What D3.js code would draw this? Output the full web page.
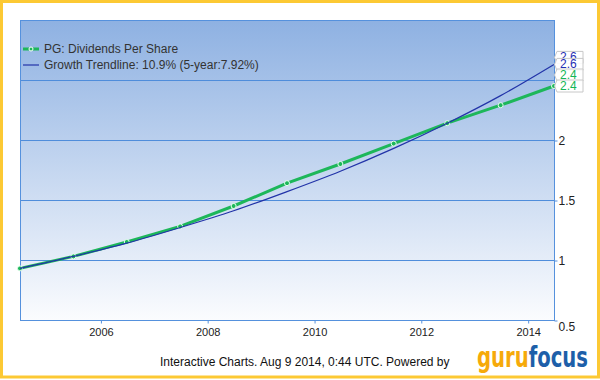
<!doctype html>
<html lang="en">
<head>
  <meta charset="utf-8">
  <title>PG Dividends Per Share</title>
  <script src="https://d3js.org/d3.v7.min.js"></script>
  <style>
    body { margin: 0; background: #fff; }
    text { font-family: 'Liberation Sans', Arial, sans-serif; }
  </style>
</head>
<body>
  <div id="chart"></div>
  <script>
    // fiscal year ends (June) for PG
    var years = ['2004-06-30','2005-06-30','2006-06-30','2007-06-30','2008-06-30','2009-06-30',
                 '2010-06-30','2011-06-30','2012-06-30','2013-06-30','2014-06-30'];
    var dividends = [0.93, 1.03, 1.15, 1.28, 1.45, 1.64, 1.80, 1.97, 2.14, 2.29, 2.45];
    var trendline = [0.93, 1.03, 1.14, 1.27, 1.41, 1.57, 1.74, 1.93, 2.14, 2.37, 2.63];
    var xTicks = [2006, 2008, 2010, 2012, 2014];
    var yTicks = [0.5, 1, 1.5, 2];
    var gridValues = [1, 1.5, 2, 2.5];

    var width = 600, height = 380;
    var plotLeft = 20, plotRight = 554, plotTop = 20, plotBottom = 320;

    var parse = d3.timeParse('%Y-%m-%d');
    var dates = years.map(parse);

    var svg = d3.select('#chart').append('svg')
        .attr('width', width)
        .attr('height', height);

    var defs = svg.append('defs');
    var grad = defs.append('linearGradient')
        .attr('id', 'bg')
        .attr('x1', 0).attr('y1', 0).attr('x2', 0).attr('y2', 1);
    grad.append('stop').attr('offset', '0%').attr('stop-color', '#8eb1e2');
    grad.append('stop').attr('offset', '100%').attr('stop-color', '#fbfcfe');

    // yellow frame
    svg.append('rect')
        .attr('x', 1.5).attr('y', 1.5)
        .attr('width', 597).attr('height', 375.5)
        .attr('fill', '#fff')
        .attr('stroke', '#fcc934')
        .attr('stroke-width', 3);

    var x = d3.scaleTime()
        .domain(d3.extent(dates))
        .range([plotLeft, plotRight]);

    var y = d3.scaleLinear()
        .domain([0.5, 3])
        .range([plotBottom, plotTop]);

    svg.append('rect')
        .attr('x', plotLeft).attr('y', plotTop)
        .attr('width', plotRight - plotLeft).attr('height', plotBottom - plotTop)
        .attr('fill', 'url(#bg)');

    // gridlines
    svg.append('g').selectAll('line')
        .data(gridValues)
        .enter().append('line')
        .attr('x1', plotLeft).attr('x2', plotRight)
        .attr('y1', function(d) { return Math.round(y(d)) + 0.5; })
        .attr('y2', function(d) { return Math.round(y(d)) + 0.5; })
        .attr('stroke', '#4f8ddb')
        .attr('stroke-width', 1);

    svg.append('rect')
        .attr('x', plotLeft + 0.5).attr('y', plotTop + 0.5)
        .attr('width', plotRight - plotLeft).attr('height', plotBottom - plotTop)
        .attr('fill', 'none')
        .attr('stroke', '#5591dd');

    // x axis
    var xAxis = svg.append('g')
        .attr('transform', 'translate(0.5,' + (plotBottom + 0.5) + ')')
        .call(d3.axisBottom(x)
          .tickValues(xTicks.map(function(d) { return new Date(d, 0, 1); }))
          .tickFormat(d3.timeFormat('%Y'))
          .tickSize(3).tickPadding(5));
    xAxis.select('.domain').remove();
    xAxis.selectAll('line').attr('stroke', '#5591dd');
    xAxis.selectAll('text').attr('fill', '#222').style('font-size', '11px')
        .style('font-family', "'Liberation Sans', Arial, sans-serif");

    // y axis on right
    var yAxis = svg.append('g')
        .attr('transform', 'translate(' + (plotRight + 0.5) + ',0.5)')
        .call(d3.axisRight(y).tickValues(yTicks).tickSize(3).tickPadding(1)
          .tickFormat(d3.format('')));
    yAxis.select('.domain').remove();
    yAxis.selectAll('line').attr('stroke', '#5591dd');
    yAxis.selectAll('text').attr('fill', '#222').style('font-size', '12px')
        .style('font-family', "'Liberation Sans', Arial, sans-serif");
    // the lowest label sits a little below its tick
    yAxis.selectAll('.tick').filter(function(d) { return d === 0.5; })
        .select('text').attr('dy', '0.85em');

    var series = dates.map(function(d, i) {
      return { date: d, div: dividends[i], trend: trendline[i] };
    });

    var divLine = d3.line()
        .x(function(d) { return x(d.date); })
        .y(function(d) { return y(d.div); });
    var trendLine = d3.line()
        .x(function(d) { return x(d.date); })
        .y(function(d) { return y(d.trend); })
        .curve(d3.curveMonotoneX);

    svg.append('path')
        .datum(series)
        .attr('d', divLine)
        .attr('fill', 'none')
        .attr('stroke', '#1db75a')
        .attr('stroke-width', 3);

    svg.append('g').selectAll('circle')
        .data(series)
        .enter().append('circle')
        .attr('cx', function(d) { return x(d.date); })
        .attr('cy', function(d) { return y(d.div); })
        .attr('r', 2.5)
        .attr('fill', '#1db75a')
        .attr('stroke', '#e8fff0')
        .attr('stroke-width', 1);

    svg.append('path')
        .datum(series)
        .attr('d', trendLine)
        .attr('fill', 'none')
        .attr('stroke', '#2233a8')
        .attr('stroke-width', 1.2);

    // end-of-line callouts
    var last = series[series.length - 1];
    var callouts = [
      { v: last.trend, off: -7, color: '#1f2fb5', label: '2.6' },
      { v: last.trend, off: 0, color: '#1f2fb5', label: '2.6' },
      { v: last.div, off: -11, color: '#12b556', label: '2.4' },
      { v: last.div, off: 0, color: '#12b556', label: '2.4' }
    ];
    var cg = svg.append('g');
    callouts.forEach(function(c) {
      var cy = y(c.v) + c.off;
      var bx = plotRight + 3;
      cg.append('path')
        .attr('d', 'M' + (plotRight + 0.5) + ',' + cy +
          'L' + bx + ',' + (cy - 6) + 'L' + (bx + 26) + ',' + (cy - 6) +
          'L' + (bx + 26) + ',' + (cy + 6) + 'L' + bx + ',' + (cy + 6) + 'Z')
        .attr('fill', '#fff')
        .attr('fill-opacity', 0.9)
        .attr('stroke', '#c8c8c8');
      cg.append('text')
        .attr('x', bx + 3).attr('y', cy + 4)
        .attr('fill', c.color)
        .style('font-size', '12px')
        .text(c.label);
    });

    // legend
    var legend = svg.append('g');
    legend.append('line')
        .attr('x1', 23).attr('x2', 39).attr('y1', 49).attr('y2', 49)
        .attr('stroke', '#1db75a').attr('stroke-width', 3);
    legend.append('circle')
        .attr('cx', 31).attr('cy', 49).attr('r', 2)
        .attr('fill', '#1db75a').attr('stroke', '#fff');
    legend.append('text')
        .attr('x', 44).attr('y', 53)
        .attr('fill', '#333')
        .style('font-size', '12px')
        .text('PG: Dividends Per Share');
    legend.append('line')
        .attr('x1', 23).attr('x2', 39).attr('y1', 65).attr('y2', 65)
        .attr('stroke', '#2233a8').attr('stroke-width', 1.2);
    legend.append('text')
        .attr('x', 44).attr('y', 69)
        .attr('fill', '#333')
        .style('font-size', '12px')
        .text('Growth Trendline: 10.9% (5-year:7.92%)');

    // footer
    svg.append('text')
        .attr('x', 160).attr('y', 366)
        .attr('fill', '#111')
        .style('font-size', '12px')
        .text('Interactive Charts. Aug 9 2014, 0:44 UTC. Powered by');

    var logo = svg.append('text')
        .attr('x', 477).attr('y', 367)
        .style('font-family', "'DejaVu Sans Condensed', 'DejaVu Sans', sans-serif")
        .style('font-weight', 'bold')
        .style('font-size', '29px')
        .attr('textLength', 111)
        .attr('lengthAdjust', 'spacingAndGlyphs');
    logo.append('tspan').attr('fill', '#f6aa0a').text('guru');
    logo.append('tspan').attr('fill', '#1d5fa9').text('focus');
  </script>
</body>
</html>
